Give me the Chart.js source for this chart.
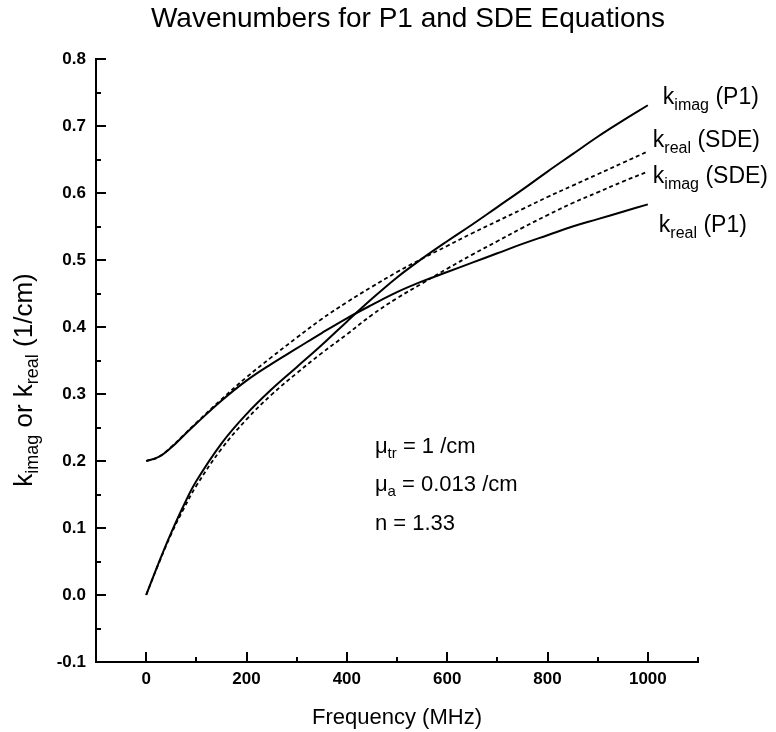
<!DOCTYPE html>
<html>
<head>
<meta charset="utf-8">
<script src="https://cdn.jsdelivr.net/npm/chart.js@4.4.0/dist/chart.umd.min.js"></script>
<style>
  html, body { margin: 0; padding: 0; background: #fff; }
</style>
</head>
<body>
<canvas id="chart" width="776" height="732"></canvas>
<script>
// frequency (MHz) and wavenumbers (1/cm)
var freq      = [0, 25, 50, 75, 100, 150, 200, 250, 300, 350, 400, 450, 500, 550, 600, 650, 700, 750, 800, 850, 900, 950, 1000];
var kRealP1   = [0.200, 0.206, 0.220, 0.238, 0.256, 0.290, 0.320, 0.345, 0.368, 0.391, 0.413, 0.433, 0.452, 0.468, 0.482, 0.496, 0.510, 0.524, 0.537, 0.550, 0.561, 0.572, 0.583];
var kImagP1   = [0.000, 0.048, 0.093, 0.134, 0.170, 0.226, 0.270, 0.307, 0.340, 0.373, 0.408, 0.442, 0.474, 0.502, 0.528, 0.553, 0.579, 0.605, 0.632, 0.658, 0.684, 0.708, 0.731];
var kRealSDE  = [0.200, 0.206, 0.221, 0.239, 0.257, 0.292, 0.325, 0.355, 0.384, 0.412, 0.437, 0.460, 0.482, 0.502, 0.521, 0.540, 0.558, 0.576, 0.594, 0.611, 0.628, 0.645, 0.662];
var kImagSDE  = [0.000, 0.047, 0.091, 0.129, 0.163, 0.218, 0.262, 0.299, 0.331, 0.361, 0.389, 0.418, 0.443, 0.465, 0.487, 0.508, 0.528, 0.548, 0.567, 0.585, 0.601, 0.617, 0.632];

var xTicks = [0, 200, 400, 600, 800, 1000];
var xMinorTicks = [100, 300, 500, 700, 900, 1100];
var yTicks = [-0.1, 0.0, 0.1, 0.2, 0.3, 0.4, 0.5, 0.6, 0.7, 0.8];
var yMinorTicks = [-0.05, 0.05, 0.15, 0.25, 0.35, 0.45, 0.55, 0.65, 0.75];

var titleText = 'Wavenumbers for P1 and SDE Equations';
var xTitle = 'Frequency (MHz)';
var yTitle = [['k', 0], ['imag', 1], [' or k', 0], ['real', 1], [' (1/cm)', 0]];
var curveLabels = [
    [['k', 0], ['imag', 1], [' (P1)', 0]],
    [['k', 0], ['real', 1], [' (SDE)', 0]],
    [['k', 0], ['imag', 1], [' (SDE)', 0]],
    [['k', 0], ['real', 1], [' (P1)', 0]]
];
var notes = [
    [['\u03bc', 0], ['tr', 1], [' = 1 /cm', 0]],
    [['\u03bc', 0], ['a', 1], [' = 0.013 /cm', 0]],
    [['n = 1.33', 0]]
];

var FONT = "'Liberation Sans', Arial, sans-serif";

function pts(ys) {
    return freq.map(function (f, i) { return { x: f, y: ys[i] }; });
}

// draws text with subscripts, returns width
function richText(ctx, parts, x, y, size, subSize, subDrop, measureOnly) {
    var w = 0;
    parts.forEach(function (p) {
        ctx.font = (p[1] ? subSize : size) + 'px ' + FONT;
        if (!measureOnly) ctx.fillText(p[0], x + w, y + (p[1] ? subDrop : 0));
        w += ctx.measureText(p[0]).width;
    });
    return w;
}

var decor = {
    id: 'decor',
    afterDraw: function (chart) {
        var ctx = chart.ctx, xs = chart.scales.x, ys = chart.scales.y;
        var area = chart.chartArea;
        ctx.save();
        ctx.strokeStyle = '#000';
        ctx.fillStyle = '#000';
        ctx.lineWidth = 2;

        // inward tick marks
        ctx.beginPath();
        xTicks.forEach(function (v) {
            var px = Math.round(xs.getPixelForValue(v));
            ctx.moveTo(px, area.bottom); ctx.lineTo(px, area.bottom - 10);
        });
        xMinorTicks.forEach(function (v) {
            var px = Math.round(xs.getPixelForValue(v));
            ctx.moveTo(px, area.bottom); ctx.lineTo(px, area.bottom - 5);
        });
        yTicks.forEach(function (v) {
            if (v < 0) return;
            var py = Math.round(ys.getPixelForValue(v));
            ctx.moveTo(area.left, py); ctx.lineTo(area.left + 10, py);
        });
        yMinorTicks.forEach(function (v) {
            var py = Math.round(ys.getPixelForValue(v));
            ctx.moveTo(area.left, py); ctx.lineTo(area.left + 5, py);
        });
        ctx.stroke();

        ctx.textBaseline = 'alphabetic';

        // title
        ctx.font = '28px ' + FONT;
        ctx.textAlign = 'center';
        ctx.fillText(titleText, 408, 27);

        // x title
        ctx.font = '22px ' + FONT;
        ctx.fillText(xTitle, (area.left + area.right) / 2, 724);
        ctx.textAlign = 'left';

        // y title, rotated
        ctx.save();
        var yw = richText(ctx, yTitle, 0, 0, 26, 18, 6, true);
        ctx.translate(32, 380 + yw / 2);
        ctx.rotate(-Math.PI / 2);
        richText(ctx, yTitle, 0, 0, 26, 18, 6);
        ctx.restore();

        // curve labels beside line ends
        var ends = [kImagP1, kRealSDE, kImagSDE, kRealP1];
        var offs = [[15, -1], [5, -4], [5, 11], [11, 28]];
        ends.forEach(function (arr, i) {
            var px = xs.getPixelForValue(freq[freq.length - 1]);
            var py = ys.getPixelForValue(arr[arr.length - 1]);
            richText(ctx, curveLabels[i], px + offs[i][0], py + offs[i][1], 23, 16, 6);
        });

        // parameter notes
        var nx = xs.getPixelForValue(456);
        var ny = ys.getPixelForValue(0.212);
        notes.forEach(function (n, i) {
            richText(ctx, n, nx, ny + i * 38.5, 22, 15, 5);
        });
        ctx.restore();
    }
};

new Chart(document.getElementById('chart'), {
    type: 'line',
    data: {
        datasets: [
            { label: 'kimag (P1)', data: pts(kImagP1), borderColor: '#000', borderWidth: 2 },
            { label: 'kreal (SDE)', data: pts(kRealSDE), borderColor: '#000', borderWidth: 1.8, borderDash: [4, 3] },
            { label: 'kimag (SDE)', data: pts(kImagSDE), borderColor: '#000', borderWidth: 1.8, borderDash: [4, 3] },
            { label: 'kreal (P1)', data: pts(kRealP1), borderColor: '#000', borderWidth: 2 }
        ]
    },
    options: {
        responsive: false,
        animation: false,
        layout: { padding: { top: 59, left: 0, right: 78, bottom: 0 } },
        elements: {
            point: { radius: 0 },
            line: { tension: 0.4, fill: false }
        },
        plugins: {
            legend: { display: false },
            tooltip: { enabled: false }
        },
        scales: {
            x: {
                type: 'linear',
                min: -100,
                max: 1100,
                afterBuildTicks: function (s) { s.ticks = xTicks.map(function (v) { return { value: v }; }); },
                afterFit: function (s) { s.height = 70; },
                grid: { display: false, drawTicks: false },
                border: { display: true, color: '#000', width: 2 },
                ticks: {
                    color: '#000',
                    padding: 7,
                    maxRotation: 0,
                    font: { family: FONT, size: 17, weight: 'bold' },
                    callback: function (v) { return String(v); }
                }
            },
            y: {
                min: -0.1,
                max: 0.8,
                afterBuildTicks: function (s) { s.ticks = yTicks.map(function (v) { return { value: v }; }); },
                afterFit: function (s) { s.width = 96; },
                grid: { display: false, drawTicks: false },
                border: { display: true, color: '#000', width: 2 },
                ticks: {
                    color: '#000',
                    padding: 10,
                    font: { family: FONT, size: 17, weight: 'bold' },
                    callback: function (v) { return v.toFixed(1); }
                }
            }
        }
    },
    plugins: [decor]
});
</script>
</body>
</html>
